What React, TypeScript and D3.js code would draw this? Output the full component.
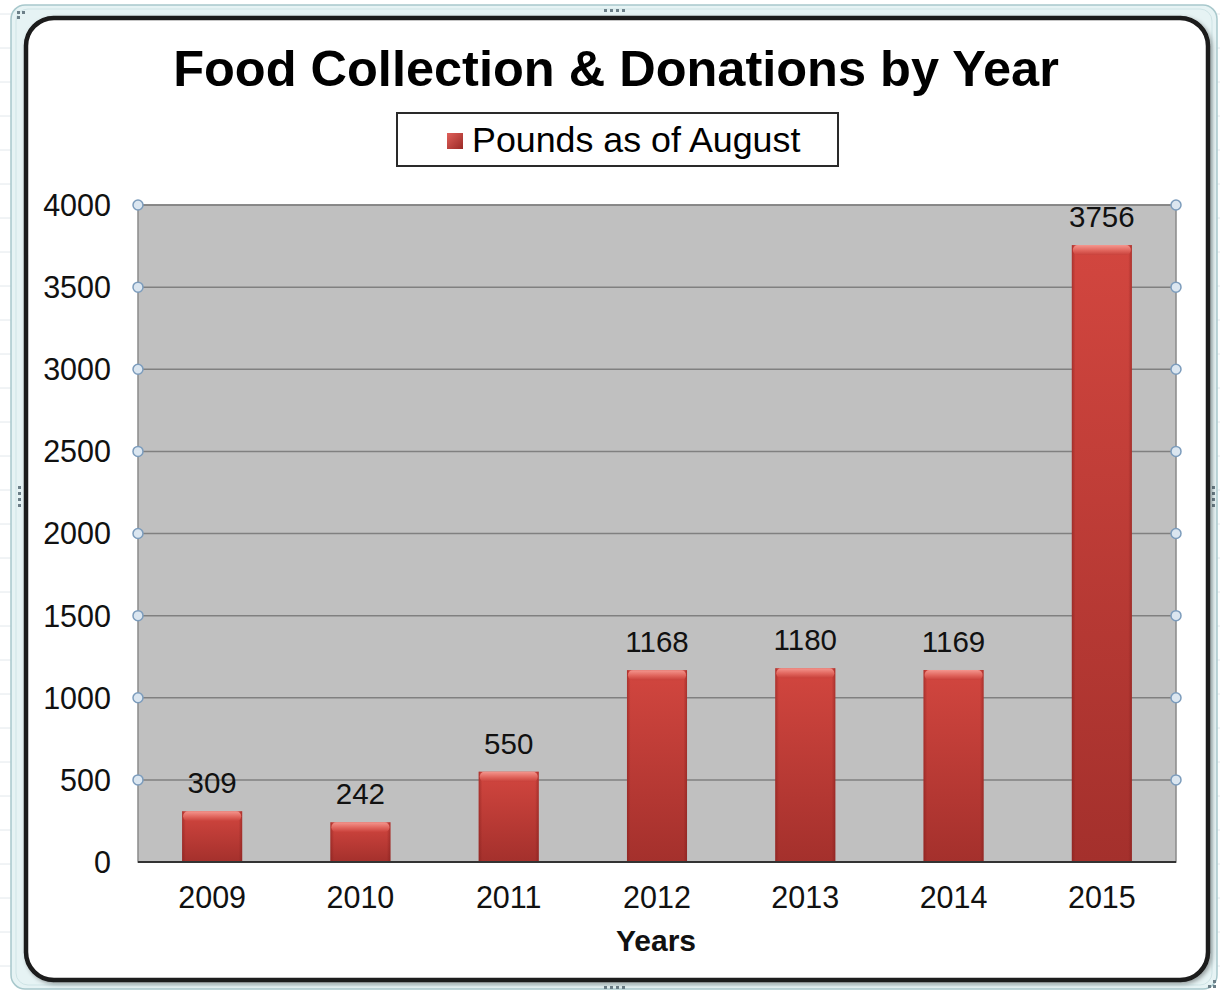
import React from 'react';
import * as d3 from 'd3';

// chart data
const years = ['2009', '2010', '2011', '2012', '2013', '2014', '2015'];
const pounds = [309, 242, 550, 1168, 1180, 1169, 3756];
const yTicks = [0, 500, 1000, 1500, 2000, 2500, 3000, 3500, 4000];
const seriesName = 'Pounds as of August';
const chartTitle = 'Food Collection & Donations by Year';
const xTitle = 'Years';

const W = 1220;
const H = 994;
const plot = { left: 138, right: 1176, top: 205, bottom: 862 };
const font = '"Liberation Sans", Arial, sans-serif';

const App: React.FC = () => {
  const x = d3.scaleBand<string>()
    .domain(years)
    .range([plot.left, plot.right])
    .paddingInner(0.595)
    .paddingOuter(0.2975);

  const y = d3.scaleLinear()
    .domain([0, 4000])
    .range([plot.bottom, plot.top]);

  const bars = years.map((yr, i) => ({ yr, v: pounds[i] }));

  return (
    <svg width={W} height={H} style={{ position: 'absolute', left: 0, top: 0, background: '#fff' }}>
      <defs>
        <linearGradient id="barBody" x1="0" y1="0" x2="0" y2="1">
          <stop offset="0%" stopColor="#d2463f" />
          <stop offset="100%" stopColor="#a4302c" />
        </linearGradient>
        <linearGradient id="barSides" x1="0" y1="0" x2="1" y2="0">
          <stop offset="0%" stopColor="#7a1a18" stopOpacity={0.45} />
          <stop offset="6%" stopColor="#7a1a18" stopOpacity={0} />
          <stop offset="94%" stopColor="#7a1a18" stopOpacity={0} />
          <stop offset="100%" stopColor="#7a1a18" stopOpacity={0.45} />
        </linearGradient>
        <linearGradient id="bevel" x1="0" y1="0" x2="0" y2="1">
          <stop offset="0%" stopColor="#f4968e" />
          <stop offset="55%" stopColor="#e0645c" />
          <stop offset="100%" stopColor="#c8403a" />
        </linearGradient>
        <linearGradient id="legendSwatch" x1="0" y1="0" x2="1" y2="1">
          <stop offset="0%" stopColor="#e0605a" />
          <stop offset="100%" stopColor="#9a2a26" />
        </linearGradient>
        <filter id="frameShadow" x="-5%" y="-5%" width="110%" height="110%">
          <feDropShadow dx="2" dy="2" stdDeviation="2" floodColor="#000" floodOpacity={0.35} />
        </filter>
      </defs>

      {/* worksheet behind the chart */}
      <rect x={0} y={0} width={W} height={H} fill="#ffffff" />
      <g stroke="#e2e8ec" strokeWidth={1}>
        {d3.range(0, H, 34).map(gy => (
          <line key={gy} x1={0} x2={W} y1={gy + 14} y2={gy + 14} />
        ))}
      </g>
      <rect x={11} y={5} width={1206} height={984} rx={14} fill="#e6f3f4" stroke="#a8c8cc" strokeWidth={1.5} />
      <rect x={16} y={9} width={1196} height={976} rx={12} fill="none" stroke="#cfe4e6" strokeWidth={1} />

      {/* selection handles */}
      <g fill="#6c7f88">
        {[[17, 11], [22, 11], [17, 16], [1208, 985], [1213, 985], [1213, 980]].map(([hx, hy], i) => (
          <rect key={i} x={hx} y={hy} width={3} height={3} />
        ))}
        {[0, 1, 2, 3].map(i => (
          <rect key={'t' + i} x={604 + i * 6} y={9} width={3} height={3} />
        ))}
        {[0, 1, 2, 3].map(i => (
          <rect key={'b' + i} x={604 + i * 6} y={986} width={3} height={3} />
        ))}
        {[0, 1, 2, 3].map(i => (
          <rect key={'l' + i} x={18} y={486 + i * 6} width={3} height={3} />
        ))}
        {[0, 1, 2, 3].map(i => (
          <rect key={'r' + i} x={1212} y={486 + i * 6} width={3} height={3} />
        ))}
      </g>

      {/* chart frame */}
      <rect x={26} y={18} width={1182} height={962} rx={28} fill="#fff" stroke="#1a1a1a" strokeWidth={4.5} filter="url(#frameShadow)" />

      {/* title */}
      <text x={616} y={86} textAnchor="middle" fontFamily={font} fontWeight="bold" fontSize={50.5} fill="#000">
        {chartTitle}
      </text>

      {/* legend */}
      <rect x={397} y={113} width={441} height={53} fill="#fff" stroke="#2a2a2a" strokeWidth={2} />
      <rect x={447} y={133} width={16} height={16} fill="url(#legendSwatch)" />
      <text x={472} y={152} fontFamily={font} fontSize={35.8} fill="#000">{seriesName}</text>

      {/* plot area */}
      <rect x={plot.left} y={plot.top} width={plot.right - plot.left} height={plot.bottom - plot.top}
        fill="#c0c0c0" stroke="#8a8a8a" strokeWidth={1.5} />
      <g stroke="#808080" strokeWidth={1.5}>
        {yTicks.filter(t => t > 0).map(t => (
          <line key={t} x1={plot.left} x2={plot.right} y1={y(t)} y2={y(t)} />
        ))}
      </g>

      {/* bars */}
      {bars.map(b => {
        const bx = x(b.yr) as number;
        const bw = x.bandwidth();
        const by = y(b.v);
        const bh = plot.bottom - by;
        return (
          <g key={b.yr}>
            <rect x={bx} y={by} width={bw} height={bh} fill="url(#barBody)" />
            <rect x={bx} y={by} width={bw} height={bh} fill="url(#barSides)" />
            <rect x={bx + 1} y={by} width={bw - 2} height={10} rx={5} fill="url(#bevel)" />
            <text x={bx + bw / 2} y={by - 18} textAnchor="middle" fontFamily={font} fontSize={29.5} fill="#111">
              {b.v}
            </text>
          </g>
        );
      })}

      {/* baseline axis */}
      <line x1={plot.left} x2={plot.right} y1={plot.bottom} y2={plot.bottom} stroke="#333" strokeWidth={2} />

      {/* gridline end markers */}
      <g fill="#dbe6f0" stroke="#7c9cbc" strokeWidth={1.5}>
        {yTicks.filter(t => t > 0).map(t => (
          <g key={t}>
            <circle cx={plot.left} cy={y(t)} r={5} />
            <circle cx={plot.right} cy={y(t)} r={5} />
          </g>
        ))}
      </g>

      {/* y axis labels */}
      {yTicks.map(t => (
        <text key={t} x={111} y={y(t)} dy="0.36em" textAnchor="end" fontFamily={font} fontSize={30.5} fill="#111">
          {t}
        </text>
      ))}

      {/* x axis labels */}
      {years.map(yr => (
        <text key={yr} x={(x(yr) as number) + x.bandwidth() / 2} y={908} textAnchor="middle"
          fontFamily={font} fontSize={30.5} fill="#111">
          {yr}
        </text>
      ))}
      <text x={656} y={951} textAnchor="middle" fontFamily={font} fontWeight="bold" fontSize={30} fill="#111">
        {xTitle}
      </text>
    </svg>
  );
};

export default App;
